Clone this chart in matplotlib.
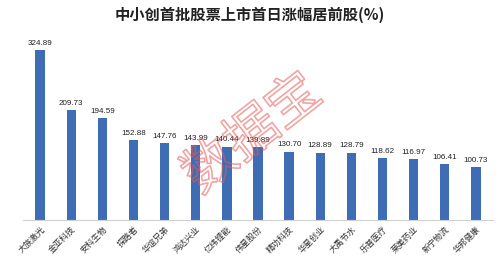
import matplotlib
matplotlib.use("Agg")
import matplotlib.pyplot as plt
import matplotlib.patheffects as pe

plt.rcParams['font.family'] = ['Noto Sans CJK SC', 'DejaVu Sans']

stocks = ["大族激光", "金亚科技", "安科生物", "探路者", "华谊兄弟", "鸿达兴业", "亿纬锂能", "伟星股份",
          "精功科技", "华星创业", "大禹节水", "乐普医疗", "莱美药业", "新宁物流", "华邦健康"]
gains = [324.89, 209.73, 194.59, 152.88, 147.76, 143.99, 140.44, 139.89,
         130.70, 128.89, 128.79, 118.62, 116.97, 106.41, 100.73]

fig = plt.figure(figsize=(5.0, 2.68), dpi=100)
ax = fig.add_axes([0.046, 0.179, 0.94, 0.672])
x = list(range(len(stocks)))
bars = ax.bar(x, gains, width=0.3, color="#3F6DB5")
ax.set_xlim(-0.55, len(stocks) - 0.45)
ax.set_ylim(0, 344)
for xi, v in zip(x, gains):
    ax.text(xi, v + 6, f"{v:.2f}", ha="center", va="bottom", fontsize=5.8,
            family=["Liberation Sans", "DejaVu Sans"], color="#222222")
ax.set_xticks(x)
ax.set_xticklabels(stocks, rotation=45, ha="right", rotation_mode="anchor", fontsize=6, color="#333333")
ax.tick_params(axis="x", length=0, pad=3)
ax.set_yticks([])
for s in ["top", "right", "left"]:
    ax.spines[s].set_visible(False)
ax.spines["bottom"].set_color("#d0d0d0")

fig.text(0.5, 0.945, "中小创首批股票上市首日涨幅居前股(%)", ha="center", va="center",
         fontsize=11, fontweight="bold", color="#222222")
fig.text(0.505, 0.50, "数据宝", ha="center", va="center", fontsize=38, rotation=38,
         color=(1, 1, 1, 0), zorder=10,
         path_effects=[pe.withStroke(linewidth=1.2, foreground=(0.9, 0.35, 0.35, 0.55))])

fig.savefig("out.png", dpi=100)
